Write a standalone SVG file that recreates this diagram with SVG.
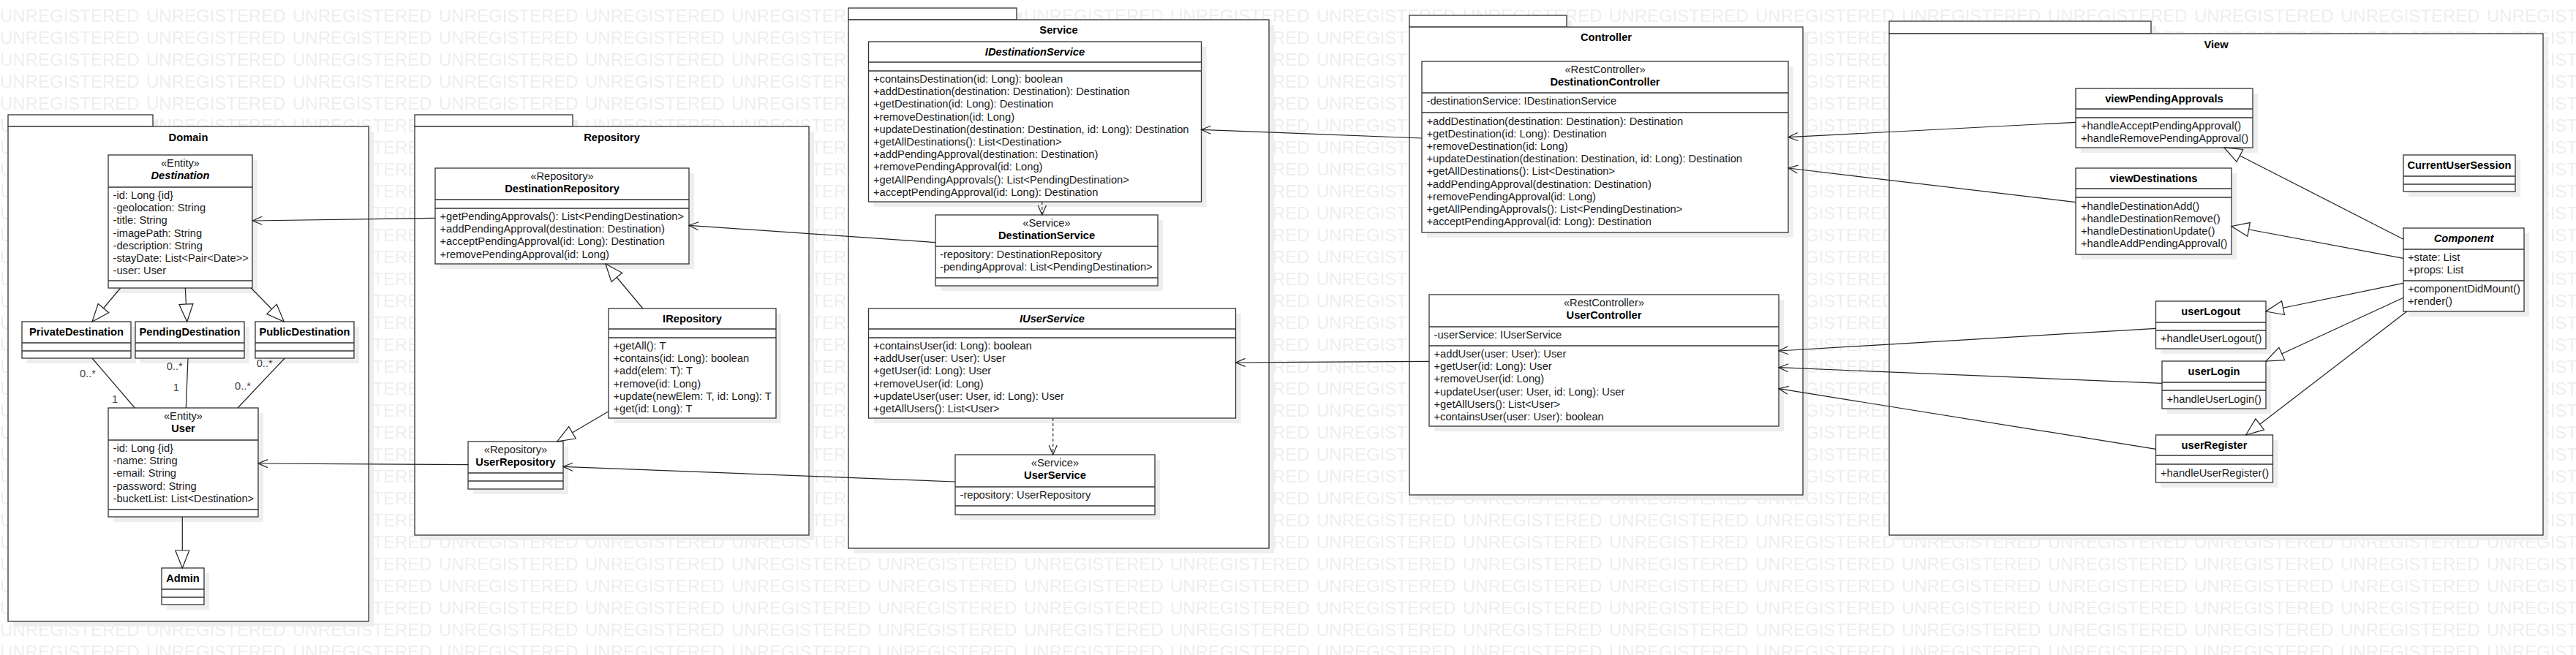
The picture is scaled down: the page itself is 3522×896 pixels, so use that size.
<svg xmlns="http://www.w3.org/2000/svg" width="3522" height="896" viewBox="0 0 3522 896">
<style>
.sh{fill:#eeeeee}
.bx{fill:#fff;stroke:#333;stroke-width:1.3}
.sep{stroke:#333;stroke-width:1.3}
.t{font-family:"Liberation Sans",Arial,sans-serif;font-size:14.7px;fill:#1a1a1a}
.b{font-weight:bold;fill:#000}
.i{font-style:italic}
.c{text-anchor:middle}
.lbl{font-family:"Liberation Sans",Arial,sans-serif;font-size:14.7px;fill:#444}
.ln{fill:none;stroke:#222;stroke-width:1.2}
.op{marker-end:url(#open)}
.gen{marker-end:url(#tri)}
.dash{stroke-dasharray:4 3}
.wm{font-family:"Liberation Sans",Arial,sans-serif;font-size:24px;fill:#eeeeee}
</style>
<defs>
<pattern id="wmp" patternUnits="userSpaceOnUse" x="0" y="10" width="200" height="30">
<text class="wm" x="0" y="20">UNREGISTERED</text>
</pattern>
<marker id="open" viewBox="-15 -8 17 16" refX="0" refY="0" markerWidth="17" markerHeight="16" orient="auto" markerUnits="userSpaceOnUse">
<path d="M-13,-5.5 L0,0 L-13,5.5" fill="none" stroke="#222" stroke-width="1.2"/>
</marker>
<marker id="tri" viewBox="-26 -12 28 24" refX="0" refY="0" markerWidth="28" markerHeight="24" orient="auto" markerUnits="userSpaceOnUse">
<path d="M-24,-9.5 L0,0 L-24,9.5 Z" fill="#fff" stroke="#222" stroke-width="1.2"/>
</marker>
</defs>
<rect x="0" y="0" width="3522" height="896" fill="#fff"/>
<rect x="0" y="0" width="3522" height="896" fill="url(#wmp)"/>

<!-- Packages -->
<g id="pkg-domain">
<rect class="sh" x="18" y="164" width="198" height="16"/>
<rect class="sh" x="18" y="180" width="493" height="677"/>
<rect class="bx" x="11" y="157" width="198" height="16"/>
<rect class="bx" x="11" y="173" width="493" height="677"/>
<text class="t b c" x="257.5" y="192.5">Domain</text>
</g>
<g id="pkg-repository">
<rect class="sh" x="574" y="164" width="216" height="16"/>
<rect class="sh" x="574" y="180" width="539" height="559"/>
<rect class="bx" x="567" y="157" width="216" height="16"/>
<rect class="bx" x="567" y="173" width="539" height="559"/>
<text class="t b c" x="836.5" y="192.5">Repository</text>
</g>
<g id="pkg-service">
<rect class="sh" x="1167" y="18" width="230" height="16"/>
<rect class="sh" x="1167" y="34" width="575" height="723"/>
<rect class="bx" x="1160" y="11" width="230" height="16"/>
<rect class="bx" x="1160" y="27" width="575" height="723"/>
<text class="t b c" x="1447.5" y="46">Service</text>
</g>
<g id="pkg-controller">
<rect class="sh" x="1934" y="28" width="215" height="16"/>
<rect class="sh" x="1934" y="44" width="538" height="640"/>
<rect class="bx" x="1927" y="21" width="215" height="16"/>
<rect class="bx" x="1927" y="37" width="538" height="640"/>
<text class="t b c" x="2196" y="56">Controller</text>
</g>
<g id="pkg-view">
<rect class="sh" x="2590" y="36" width="358" height="17"/>
<rect class="sh" x="2590" y="53" width="894" height="686"/>
<rect class="bx" x="2583" y="29" width="358" height="17"/>
<rect class="bx" x="2583" y="46" width="894" height="686"/>
<text class="t b c" x="3030" y="66">View</text>
</g>

<!-- Domain classes -->
<g id="destination">
<rect class="sh" x="155" y="219" width="197" height="182"/>
<rect class="bx" x="148" y="212" width="197" height="182"/>
<line class="sep" x1="148" y1="256" x2="345" y2="256"/>
<line class="sep" x1="148" y1="384" x2="345" y2="384"/>
<text class="t c" x="246.5" y="228.3">«Entity»</text>
<text class="t b i c" x="246.5" y="245.3">Destination</text>
<text class="t"><tspan x="154.5" y="272">-id: Long {id}</tspan><tspan x="154.5" dy="17.2">-geolocation: String</tspan><tspan x="154.5" dy="17.2">-title: String</tspan><tspan x="154.5" dy="17.2">-imagePath: String</tspan><tspan x="154.5" dy="17.2">-description: String</tspan><tspan x="154.5" dy="17.2">-stayDate: List&lt;Pair&lt;Date&gt;&gt;</tspan><tspan x="154.5" dy="17.2">-user: User</tspan></text>
</g>
<g id="privatedestination">
<rect class="sh" x="37" y="447" width="149" height="50"/>
<rect class="bx" x="30" y="440" width="149" height="50"/>
<line class="sep" x1="30" y1="469" x2="179" y2="469"/>
<line class="sep" x1="30" y1="480" x2="179" y2="480"/>
<text class="t b c" x="104.5" y="458.7">PrivateDestination</text>
</g>
<g id="pendingdestination">
<rect class="sh" x="192" y="447" width="149" height="50"/>
<rect class="bx" x="185" y="440" width="149" height="50"/>
<line class="sep" x1="185" y1="469" x2="334" y2="469"/>
<line class="sep" x1="185" y1="480" x2="334" y2="480"/>
<text class="t b c" x="259.5" y="458.7">PendingDestination</text>
</g>
<g id="publicdestination">
<rect class="sh" x="356" y="447" width="135" height="50"/>
<rect class="bx" x="349" y="440" width="135" height="50"/>
<line class="sep" x1="349" y1="469" x2="484" y2="469"/>
<line class="sep" x1="349" y1="480" x2="484" y2="480"/>
<text class="t b c" x="416.5" y="458.7">PublicDestination</text>
</g>
<g id="user">
<rect class="sh" x="155" y="565" width="205" height="149"/>
<rect class="bx" x="148" y="558" width="205" height="149"/>
<line class="sep" x1="148" y1="602" x2="353" y2="602"/>
<line class="sep" x1="148" y1="697" x2="353" y2="697"/>
<text class="t c" x="250.5" y="574.3">«Entity»</text>
<text class="t b c" x="250.5" y="591.3">User</text>
<text class="t"><tspan x="154.5" y="618">-id: Long {id}</tspan><tspan x="154.5" dy="17.2">-name: String</tspan><tspan x="154.5" dy="17.2">-email: String</tspan><tspan x="154.5" dy="17.2">-password: String</tspan><tspan x="154.5" dy="17.2">-bucketList: List&lt;Destination&gt;</tspan></text>
</g>
<g id="admin">
<rect class="sh" x="228" y="784" width="58" height="50"/>
<rect class="bx" x="221" y="777" width="58" height="50"/>
<line class="sep" x1="221" y1="806" x2="279" y2="806"/>
<line class="sep" x1="221" y1="817" x2="279" y2="817"/>
<text class="t b c" x="250" y="795.7">Admin</text>
</g>

<!-- Repository classes -->
<g id="destinationrepository">
<rect class="sh" x="602" y="237" width="347" height="131"/>
<rect class="bx" x="595" y="230" width="347" height="131"/>
<line class="sep" x1="595" y1="273" x2="942" y2="273"/>
<line class="sep" x1="595" y1="285" x2="942" y2="285"/>
<text class="t c" x="768.5" y="246.3">«Repository»</text>
<text class="t b c" x="768.5" y="263.3">DestinationRepository</text>
<text class="t"><tspan x="601.5" y="301">+getPendingApprovals(): List&lt;PendingDestination&gt;</tspan><tspan x="601.5" dy="17.2">+addPendingApproval(destination: Destination)</tspan><tspan x="601.5" dy="17.2">+acceptPendingApproval(id: Long): Destination</tspan><tspan x="601.5" dy="17.2">+removePendingApproval(id: Long)</tspan></text>
</g>
<g id="irepository">
<rect class="sh" x="839" y="429" width="229" height="150"/>
<rect class="bx" x="832" y="422" width="229" height="150"/>
<line class="sep" x1="832" y1="450" x2="1061" y2="450"/>
<line class="sep" x1="832" y1="462" x2="1061" y2="462"/>
<text class="t b c" x="946.5" y="440.7">IRepository</text>
<text class="t"><tspan x="838.5" y="478">+getAll(): T</tspan><tspan x="838.5" dy="17.2">+contains(id: Long): boolean</tspan><tspan x="838.5" dy="17.2">+add(elem: T): T</tspan><tspan x="838.5" dy="17.2">+remove(id: Long)</tspan><tspan x="838.5" dy="17.2">+update(newElem: T, id: Long): T</tspan><tspan x="838.5" dy="17.2">+get(id: Long): T</tspan></text>
</g>
<g id="userrepository">
<rect class="sh" x="647" y="611" width="130" height="65"/>
<rect class="bx" x="640" y="604" width="130" height="65"/>
<line class="sep" x1="640" y1="647" x2="770" y2="647"/>
<line class="sep" x1="640" y1="658" x2="770" y2="658"/>
<text class="t c" x="705" y="620.3">«Repository»</text>
<text class="t b c" x="705" y="637.3">UserRepository</text>
</g>

<!-- Service classes -->
<g id="idestinationservice">
<rect class="sh" x="1194.5" y="64" width="455" height="219"/>
<rect class="bx" x="1187.5" y="57" width="455" height="219"/>
<line class="sep" x1="1187.5" y1="85" x2="1642.5" y2="85"/>
<line class="sep" x1="1187.5" y1="97" x2="1642.5" y2="97"/>
<text class="t b i c" x="1415" y="75.7">IDestinationService</text>
<text class="t"><tspan x="1194" y="113">+containsDestination(id: Long): boolean</tspan><tspan x="1194" dy="17.2">+addDestination(destination: Destination): Destination</tspan><tspan x="1194" dy="17.2">+getDestination(id: Long): Destination</tspan><tspan x="1194" dy="17.2">+removeDestination(id: Long)</tspan><tspan x="1194" dy="17.2">+updateDestination(destination: Destination, id: Long): Destination</tspan><tspan x="1194" dy="17.2">+getAllDestinations(): List&lt;Destination&gt;</tspan><tspan x="1194" dy="17.2">+addPendingApproval(destination: Destination)</tspan><tspan x="1194" dy="17.2">+removePendingApproval(id: Long)</tspan><tspan x="1194" dy="17.2">+getAllPendingApprovals(): List&lt;PendingDestination&gt;</tspan><tspan x="1194" dy="17.2">+acceptPendingApproval(id: Long): Destination</tspan></text>
</g>
<g id="destinationservice">
<rect class="sh" x="1286" y="301" width="304" height="97"/>
<rect class="bx" x="1279" y="294" width="304" height="97"/>
<line class="sep" x1="1279" y1="337" x2="1583" y2="337"/>
<line class="sep" x1="1279" y1="380" x2="1583" y2="380"/>
<text class="t c" x="1431" y="310.3">«Service»</text>
<text class="t b c" x="1431" y="327.3">DestinationService</text>
<text class="t"><tspan x="1285" y="353">-repository: DestinationRepository</tspan><tspan x="1285" dy="17.2">-pendingApproval: List&lt;PendingDestination&gt;</tspan></text>
</g>
<g id="iuserservice">
<rect class="sh" x="1194.5" y="429" width="502" height="150"/>
<rect class="bx" x="1187.5" y="422" width="502" height="150"/>
<line class="sep" x1="1187.5" y1="450" x2="1689.5" y2="450"/>
<line class="sep" x1="1187.5" y1="462" x2="1689.5" y2="462"/>
<text class="t b i c" x="1438.5" y="440.7">IUserService</text>
<text class="t"><tspan x="1194" y="478">+containsUser(id: Long): boolean</tspan><tspan x="1194" dy="17.2">+addUser(user: User): User</tspan><tspan x="1194" dy="17.2">+getUser(id: Long): User</tspan><tspan x="1194" dy="17.2">+removeUser(id: Long)</tspan><tspan x="1194" dy="17.2">+updateUser(user: User, id: Long): User</tspan><tspan x="1194" dy="17.2">+getAllUsers(): List&lt;User&gt;</tspan></text>
</g>
<g id="userservice">
<rect class="sh" x="1313" y="629" width="273" height="82"/>
<rect class="bx" x="1306" y="622" width="273" height="82"/>
<line class="sep" x1="1306" y1="666" x2="1579" y2="666"/>
<line class="sep" x1="1306" y1="692" x2="1579" y2="692"/>
<text class="t c" x="1442.5" y="638.3">«Service»</text>
<text class="t b c" x="1442.5" y="655.3">UserService</text>
<text class="t" x="1312.5" y="682">-repository: UserRepository</text>
</g>

<!-- Controller classes -->
<g id="destinationcontroller">
<rect class="sh" x="1951" y="91" width="501" height="234"/>
<rect class="bx" x="1944" y="84" width="501" height="234"/>
<line class="sep" x1="1944" y1="127" x2="2445" y2="127"/>
<line class="sep" x1="1944" y1="154" x2="2445" y2="154"/>
<text class="t c" x="2194.5" y="100.3">«RestController»</text>
<text class="t b c" x="2194.5" y="117.3">DestinationController</text>
<text class="t" x="1950.5" y="143">-destinationService: IDestinationService</text>
<text class="t"><tspan x="1950.5" y="170.5">+addDestination(destination: Destination): Destination</tspan><tspan x="1950.5" dy="17.2">+getDestination(id: Long): Destination</tspan><tspan x="1950.5" dy="17.2">+removeDestination(id: Long)</tspan><tspan x="1950.5" dy="17.2">+updateDestination(destination: Destination, id: Long): Destination</tspan><tspan x="1950.5" dy="17.2">+getAllDestinations(): List&lt;Destination&gt;</tspan><tspan x="1950.5" dy="17.2">+addPendingApproval(destination: Destination)</tspan><tspan x="1950.5" dy="17.2">+removePendingApproval(id: Long)</tspan><tspan x="1950.5" dy="17.2">+getAllPendingApprovals(): List&lt;PendingDestination&gt;</tspan><tspan x="1950.5" dy="17.2">+acceptPendingApproval(id: Long): Destination</tspan></text>
</g>
<g id="usercontroller">
<rect class="sh" x="1961" y="410" width="478" height="180"/>
<rect class="bx" x="1954" y="403" width="478" height="180"/>
<line class="sep" x1="1954" y1="447" x2="2432" y2="447"/>
<line class="sep" x1="1954" y1="473" x2="2432" y2="473"/>
<text class="t c" x="2193" y="419.3">«RestController»</text>
<text class="t b c" x="2193" y="436.3">UserController</text>
<text class="t" x="1960.5" y="463">-userService: IUserService</text>
<text class="t"><tspan x="1960.5" y="489">+addUser(user: User): User</tspan><tspan x="1960.5" dy="17.2">+getUser(id: Long): User</tspan><tspan x="1960.5" dy="17.2">+removeUser(id: Long)</tspan><tspan x="1960.5" dy="17.2">+updateUser(user: User, id: Long): User</tspan><tspan x="1960.5" dy="17.2">+getAllUsers(): List&lt;User&gt;</tspan><tspan x="1960.5" dy="17.2">+containsUser(user: User): boolean</tspan></text>
</g>

<!-- View classes -->
<g id="viewpendingapprovals">
<rect class="sh" x="2845" y="128" width="242" height="81"/>
<rect class="bx" x="2838" y="121" width="242" height="81"/>
<line class="sep" x1="2838" y1="149" x2="3080" y2="149"/>
<line class="sep" x1="2838" y1="161" x2="3080" y2="161"/>
<text class="t b c" x="2959" y="139.7">viewPendingApprovals</text>
<text class="t"><tspan x="2845" y="177">+handleAcceptPendingApproval()</tspan><tspan x="2845" dy="17.2">+handleRemovePendingApproval()</tspan></text>
</g>
<g id="viewdestinations">
<rect class="sh" x="2845" y="237" width="213" height="118"/>
<rect class="bx" x="2838" y="230" width="213" height="118"/>
<line class="sep" x1="2838" y1="258" x2="3051" y2="258"/>
<line class="sep" x1="2838" y1="270" x2="3051" y2="270"/>
<text class="t b c" x="2944.5" y="248.7">viewDestinations</text>
<text class="t"><tspan x="2845" y="286.5">+handleDestinationAdd()</tspan><tspan x="2845" dy="17.2">+handleDestinationRemove()</tspan><tspan x="2845" dy="17.2">+handleDestinationUpdate()</tspan><tspan x="2845" dy="17.2">+handleAddPendingApproval()</tspan></text>
</g>
<g id="currentusersession">
<rect class="sh" x="3293" y="219" width="153" height="50"/>
<rect class="bx" x="3286" y="212" width="153" height="50"/>
<line class="sep" x1="3286" y1="241" x2="3439" y2="241"/>
<line class="sep" x1="3286" y1="252" x2="3439" y2="252"/>
<text class="t b c" x="3362.5" y="230.7">CurrentUserSession</text>
</g>
<g id="component">
<rect class="sh" x="3293" y="319" width="165" height="114"/>
<rect class="bx" x="3286" y="312" width="165" height="114"/>
<line class="sep" x1="3286" y1="341" x2="3451" y2="341"/>
<line class="sep" x1="3286" y1="384" x2="3451" y2="384"/>
<text class="t b i c" x="3368.5" y="330.7">Component</text>
<text class="t"><tspan x="3292" y="357">+state: List</tspan><tspan x="3292" dy="17.2">+props: List</tspan></text>
<text class="t"><tspan x="3292" y="400">+componentDidMount()</tspan><tspan x="3292" dy="17.2">+render()</tspan></text>
</g>
<g id="userlogout">
<rect class="sh" x="2954.5" y="419" width="150.5" height="65"/>
<rect class="bx" x="2947.5" y="412" width="150.5" height="65"/>
<line class="sep" x1="2947.5" y1="441" x2="3098" y2="441"/>
<line class="sep" x1="2947.5" y1="452" x2="3098" y2="452"/>
<text class="t b c" x="3022.7" y="430.7">userLogout</text>
<text class="t" x="2954" y="468">+handleUserLogout()</text>
</g>
<g id="userlogin">
<rect class="sh" x="2963" y="501" width="142" height="65"/>
<rect class="bx" x="2956" y="494" width="142" height="65"/>
<line class="sep" x1="2956" y1="523" x2="3098" y2="523"/>
<line class="sep" x1="2956" y1="534" x2="3098" y2="534"/>
<text class="t b c" x="3027" y="512.7">userLogin</text>
<text class="t" x="2962.5" y="550.5">+handleUserLogin()</text>
</g>
<g id="userregister">
<rect class="sh" x="2954.5" y="602" width="160" height="65"/>
<rect class="bx" x="2947.5" y="595" width="160" height="65"/>
<line class="sep" x1="2947.5" y1="623" x2="3107.5" y2="623"/>
<line class="sep" x1="2947.5" y1="635" x2="3107.5" y2="635"/>
<text class="t b c" x="3027.5" y="613.7">userRegister</text>
<text class="t" x="2954" y="651.5">+handleUserRegister()</text>
</g>

<!-- Connectors -->
<g id="connectors">
<path class="ln op" d="M594.6,298.3 L345.3,302"/>
<path class="ln op" d="M640.4,635.7 L353,634"/>
<path class="ln op" d="M1279,331.7 L942,308.3"/>
<path class="ln op" d="M1306,659 L770,638.3"/>
<path class="ln op" d="M1944,189 L1642.5,177.3"/>
<path class="ln op" d="M1954,494.3 L1689.5,496"/>
<path class="ln op dash" d="M1424.8,276 L1424.8,294"/>
<path class="ln op dash" d="M1439.7,572 L1439.7,622"/>
<path class="ln op" d="M2838,167.3 L2445,187.7"/>
<path class="ln op" d="M2838,276.7 L2445,230"/>
<path class="ln op" d="M2947.5,449.3 L2432,480"/>
<path class="ln op" d="M2956,524.3 L2432,502.7"/>
<path class="ln op" d="M2947.5,614.3 L2432,531.7"/>
<path class="ln gen" d="M164.7,394 L126,440"/>
<path class="ln gen" d="M253.3,394 L255.7,440"/>
<path class="ln gen" d="M343.3,394 L388.3,440"/>
<path class="ln gen" d="M249.3,707 L249.3,777"/>
<path class="ln gen" d="M878.9,422 L827.9,361"/>
<path class="ln gen" d="M832,562.7 L761.8,604"/>
<path class="ln gen" d="M3286,327.3 L3041,202"/>
<path class="ln gen" d="M3286,353.3 L3051,309.5"/>
<path class="ln gen" d="M3286,387.3 L3098,426"/>
<path class="ln gen" d="M3286,407.3 L3098,494"/>
<path class="ln gen" d="M3290.7,426 L3070.7,595"/>
<path class="ln" d="M126,490 L184.3,558"/>
<path class="ln" d="M257,490 L254.3,558"/>
<path class="ln" d="M389.3,490 L325,558"/>
<text class="lbl" x="109" y="516">0..*</text>
<text class="lbl" x="153" y="551">1</text>
<text class="lbl" x="227.7" y="506">0..*</text>
<text class="lbl" x="236.7" y="535">1</text>
<text class="lbl" x="350.7" y="502">0..*</text>
<text class="lbl" x="321" y="533">0..*</text>
</g>
</svg>
